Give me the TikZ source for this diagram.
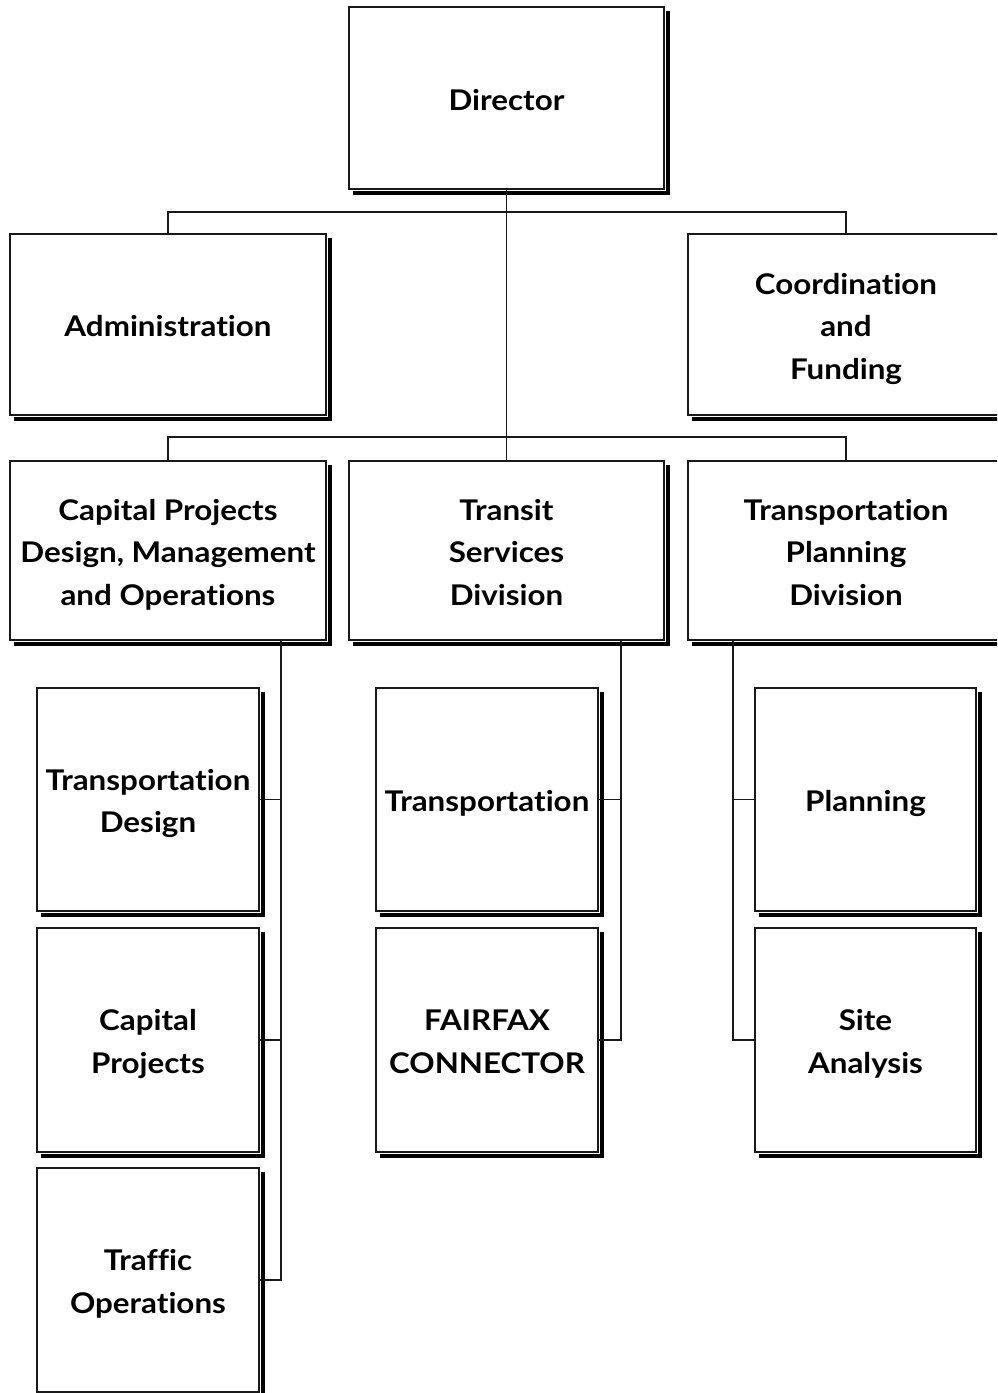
\documentclass[tikz,border=0pt]{standalone}
\usepackage{fontspec}
\setmainfont{Lato}[FakeStretch=1.1,Ligatures=NoCommon]
\newcommand\tst{\rule{0pt}{30pt}}
\newcommand\bst{\rule[-6pt]{0pt}{0pt}}
\begin{document}
\begin{tikzpicture}[x=1pt,y=-1pt,
  box/.style={draw=black!90,line width=1.7pt,inner sep=0pt,outer sep=0pt,align=center,
    font=\fontsize{28.5}{42.5}\selectfont\bfseries},
  bigbox/.style={box,minimum width=316pt,minimum height=181pt},
  subbox/.style={box,minimum width=222pt,minimum height=224pt},
  shadowline/.style={line width=3.5pt,black},
  conn/.style={line width=1.8pt,black!90}]
\useasboundingbox (0,0) rectangle (997,1393);
\clip (0,0) rectangle (997,1393);
\fill[white] (0,0) rectangle (997,1393);
% top level
\node[bigbox,minimum width=315pt,minimum height=182pt] (dir) at (506.5,98) {\tst Director\bst};
\node[bigbox] (adm) at (168,324.5) {\tst Administration\bst};
\node[bigbox] (coo) at (846,324.5) {\tst Coordination\\and\\Funding\bst};
\node[bigbox,minimum height=179pt] (cap) at (168,550.5) {\tst Capital Projects\\Design, Management\\and Operations\bst};
\node[bigbox,minimum width=315pt,minimum height=179pt] (tra) at (506.5,550.5) {\tst Transit\\Services\\Division\bst};
\node[bigbox,minimum height=179pt] (pla) at (846,550.5) {\tst Transportation\\Planning\\Division\bst};
% sub level
\node[subbox,minimum height=223pt] (td) at (148,799.5) {\tst Transportation\\Design\bst};
\node[subbox] (cp) at (148,1040) {\tst Capital\\Projects\bst};
\node[subbox] (to) at (148,1280) {\tst Traffic\\Operations\bst};
\node[subbox,minimum height=223pt] (tt) at (487,799.5) {\tst Transportation\bst};
\node[subbox] (fc) at (487,1040) {\tst FAIRFAX\\CONNECTOR\bst};
\node[subbox,minimum width=221pt,minimum height=223pt] (pl) at (865.5,799.5) {\tst Planning\bst};
\node[subbox,minimum width=221pt] (sa) at (865.5,1040) {\tst Site\\Analysis\bst};
% shadows
\foreach \n in {dir,adm,coo,cap,tra,pla,td,cp,to,tt,fc,pl,sa}{
  \draw[shadowline] ([shift={(3.5,4)}]\n.south west) -| ([shift={(4,4)}]\n.north east);
}
% connectors
\coordinate (b1) at (506.5,212);
\coordinate (b2) at (506.5,437);
\draw[conn] (dir.south) -- (tra.north);
\draw[conn] (adm.north) |- (b1) -| (coo.north);
\draw[conn] (cap.north) |- (b2) -| (pla.north);
\coordinate (capv) at (281,641);
\coordinate (trav) at (621,641);
\coordinate (plav) at (733,641);
\draw[conn] (capv) |- (to.east);
\draw[conn] (td.east) -- (td.east -| capv);
\draw[conn] (cp.east) -- (cp.east -| capv);
\draw[conn] (trav) |- (fc.east);
\draw[conn] (tt.east) -- (tt.east -| trav);
\draw[conn] (plav) |- (sa.west);
\draw[conn] (pl.west) -- (pl.west -| plav);
\end{tikzpicture}
\end{document}
